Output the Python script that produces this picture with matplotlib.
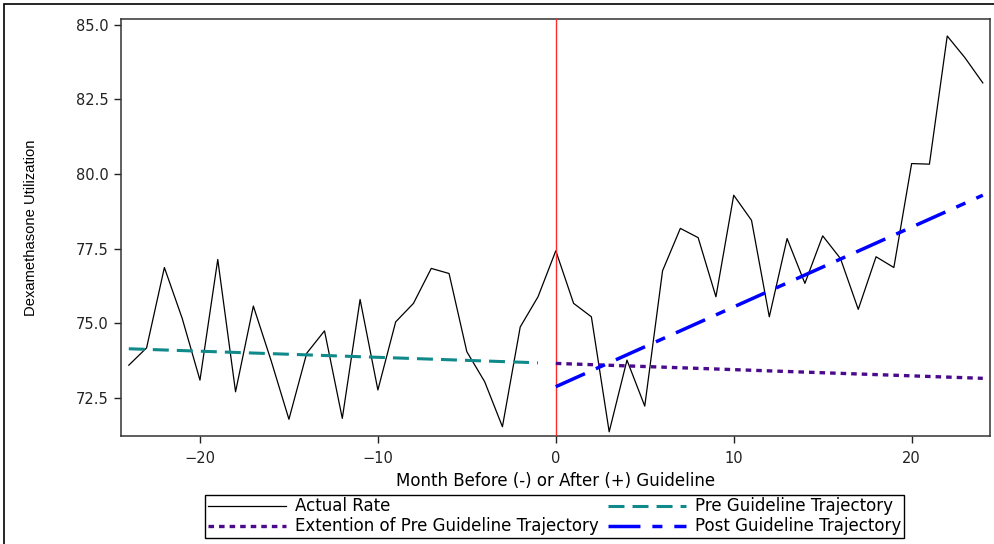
import matplotlib
matplotlib.use('Agg')
import matplotlib.pyplot as plt
from matplotlib.patches import Rectangle
from matplotlib.ticker import FormatStrFormatter

matplotlib.rcParams.update({'font.family': 'DejaVu Sans', 'font.size': 10,
                            'lines.scale_dashes': False})

# monthly dexamethasone utilization, months relative to guideline release
months = list(range(-24, 25))
rate = [73.60, 74.18, 76.87, 75.17, 73.10, 77.14, 72.71, 75.58, 73.75, 71.79,
        74.00, 74.75, 71.82, 75.80, 72.77, 75.05, 75.67, 76.84, 76.67, 74.05,
        73.05, 71.54, 74.88, 75.89, 77.43, 75.67, 75.22, 71.37, 73.77, 72.23,
        76.76, 78.18, 77.87, 75.89, 79.29, 78.45, 75.22, 77.84, 76.34, 77.93,
        77.17, 75.47, 77.23, 76.87, 80.35, 80.33, 84.62, 83.89, 83.05]

# fitted segments (end points)
pre_x = [-24, -1]
pre_y = [74.15, 73.68]
ext_x = [0, 24]
ext_y = [73.66, 73.16]
post_x = [0, 24]
post_y = [72.88, 79.29]

xticks = [-20, -10, 0, 10, 20]
yticks = [72.5, 75.0, 77.5, 80.0, 82.5, 85.0]

fig = plt.figure(figsize=(9.94, 5.44), dpi=100)
ax = fig.add_axes([0.1217, 0.1991, 0.8742, 0.766])

l1, = ax.plot(months, rate, color='black', lw=0.9, zorder=2, label='Actual Rate')
ax.axvline(0, color='#ff2a2a', lw=1.0, zorder=3)
l2, = ax.plot(pre_x, pre_y, color='#10898a', lw=2.2, dashes=(11.5, 5.8),
              zorder=4, label='Pre Guideline Trajectory')
l3, = ax.plot(ext_x, ext_y, color='#4b0a8c', lw=2.4, dashes=(4.0, 3.6),
              zorder=4, label='Extention of Pre Guideline Trajectory')
l4, = ax.plot(post_x, post_y, color='#0000ff', lw=2.5, dashes=(23, 8.6, 7.2, 8.6),
              zorder=4, label='Post Guideline Trajectory')

ax.set_xlim(-24.44, 24.40)
ax.set_ylim(71.24, 85.19)
ax.set_xticks(xticks)
ax.set_yticks(yticks)
ax.yaxis.set_major_formatter(FormatStrFormatter('%.1f'))
ax.tick_params(direction='out', length=5, width=1, colors='#222222', labelsize=10.5)
ax.tick_params(axis='x', pad=6)
ax.tick_params(axis='y', pad=4)
for sp in ax.spines.values():
    sp.set_color('#333333')
    sp.set_linewidth(1.1)

ax.set_xlabel('Month Before (-) or After (+) Guideline', fontsize=12)
ax.xaxis.set_label_coords(0.5, -0.087)
ax.set_ylabel('Dexamethasone Utilization', family='Liberation Sans', fontsize=10.6)
ax.yaxis.set_label_coords(-0.096, 0.5)

leg = fig.legend(handles=[l1, l3, l2, l4], loc='center', bbox_to_anchor=(0.558, 0.0506),
                 ncol=2, fontsize=12, frameon=True, fancybox=False, framealpha=1,
                 edgecolor='black', handlelength=4.7, handletextpad=0.55,
                 columnspacing=0.5, labelspacing=0.12, borderpad=0.15,
                 borderaxespad=0)
leg.get_frame().set_linewidth(1.0)

# outer frame around the figure
fig.add_artist(Rectangle((3.5 / 994, -0.1), 1.1, 1 - 4.5 / 544 + 0.1,
                         transform=fig.transFigure, fill=False,
                         edgecolor='black', lw=1.2, clip_on=False))

fig.savefig('out.png', dpi=100)
